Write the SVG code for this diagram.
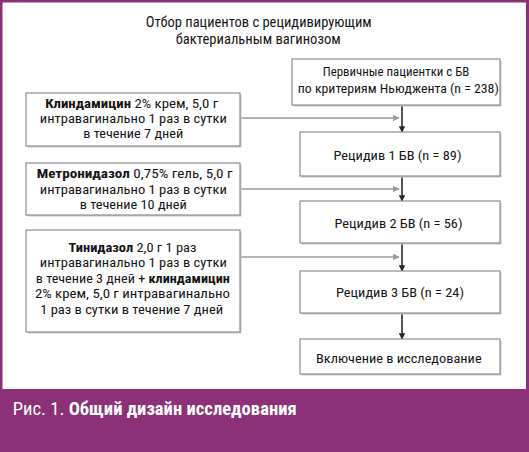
<svg xmlns="http://www.w3.org/2000/svg" width="529" height="452" viewBox="0 0 529 452">
<defs>
<style>
.box{fill:#fff;stroke:#8f8f8f;stroke-width:1.2}
.sh{fill:#c9c9c9}
.t{font-family:"Liberation Sans Narrow","Roboto Condensed","Liberation Sans",sans-serif;font-size:13.3px;fill:#161616;text-anchor:middle}
.b{font-weight:bold}
.ttl{font-size:14px}
.cap{font-family:"Liberation Sans Narrow","Roboto Condensed","Liberation Sans",sans-serif;font-size:19px;fill:#fff}
.v{stroke:#2a2a2a;stroke-width:1.6;fill:none}
.h{stroke:#9a9a9a;stroke-width:1.3;fill:none}
</style>
<marker id="ad" viewBox="0 0 10 10" refX="9" refY="5" markerWidth="4" markerHeight="4" orient="auto" markerUnits="strokeWidth">
<path d="M0,0 L10,5 L0,10 z" fill="#2a2a2a"/>
</marker>
<marker id="ag" viewBox="0 0 10 10" refX="9" refY="5" markerWidth="5" markerHeight="5" orient="auto" markerUnits="strokeWidth">
<path d="M0,0 L10,5 L0,10 z" fill="#9a9a9a"/>
</marker>
</defs>
<rect x="0" y="0" width="529" height="452" fill="#8c3177"/>
<rect x="2.5" y="2.5" width="523.5" height="386.5" fill="#fff"/>

<g id="title">
<text class="t ttl" x="258.7" y="26.5" textLength="226" lengthAdjust="spacingAndGlyphs">Отбор пациентов с рецидивирующим</text>
<text class="t ttl" x="258.2" y="43.5" textLength="165" lengthAdjust="spacingAndGlyphs">бактериальным вагинозом</text>
</g>

<g id="connectors">
<line class="v" x1="402" y1="105" x2="402" y2="132" marker-end="url(#ad)"/>
<line class="v" x1="402" y1="176" x2="402" y2="201" marker-end="url(#ad)"/>
<line class="v" x1="402" y1="243" x2="402" y2="271" marker-end="url(#ad)"/>
<line class="v" x1="402" y1="313" x2="402" y2="339" marker-end="url(#ad)"/>
<line class="h" x1="240" y1="118" x2="399" y2="118" marker-end="url(#ag)"/>
<line class="h" x1="240" y1="189" x2="399" y2="189" marker-end="url(#ag)"/>
<line class="h" x1="240" y1="257" x2="399" y2="257" marker-end="url(#ag)"/>
</g>

<g id="primary">
<rect class="sh" x="293.5" y="60.5" width="208" height="46"/>
<rect class="box" x="292" y="59" width="208" height="46"/>
<text class="t" x="396" y="76" textLength="146.7" lengthAdjust="spacingAndGlyphs">Первичные пациентки с БВ</text>
<text class="t" x="398.3" y="93" textLength="201" lengthAdjust="spacingAndGlyphs">по критериям Ньюджента (n = 238)</text>
</g>

<g id="clinda">
<rect class="sh" x="27.5" y="94.5" width="214" height="53"/>
<rect class="box" x="26" y="93" width="214" height="53"/>
<text class="t" x="131.7" y="108" textLength="173" lengthAdjust="spacingAndGlyphs"><tspan class="b">Клиндамицин</tspan> 2% крем, 5,0 г</text>
<text class="t" x="133.3" y="123" textLength="187" lengthAdjust="spacingAndGlyphs">интравагинально 1 раз в сутки</text>
<text class="t" x="133.3" y="138" textLength="100" lengthAdjust="spacingAndGlyphs">в течение 7 дней</text>
</g>

<g id="rec1">
<rect class="sh" x="301.5" y="133.5" width="200" height="44"/>
<rect class="box" x="300" y="132" width="200" height="44"/>
<text class="t" x="397.5" y="159.5" textLength="128" lengthAdjust="spacingAndGlyphs">Рецидив 1 БВ (n = 89)</text>
</g>

<g id="metro">
<rect class="sh" x="27.5" y="164.5" width="214" height="52"/>
<rect class="box" x="26" y="163" width="214" height="52"/>
<text class="t" x="134.7" y="178.3" textLength="196" lengthAdjust="spacingAndGlyphs"><tspan class="b">Метронидазол</tspan> 0,75% гель, 5,0 г</text>
<text class="t" x="133.3" y="194" textLength="187" lengthAdjust="spacingAndGlyphs">интравагинально 1 раз в сутки</text>
<text class="t" x="133.3" y="209" textLength="107" lengthAdjust="spacingAndGlyphs">в течение 10 дней</text>
</g>

<g id="rec2">
<rect class="sh" x="301.5" y="202.5" width="200" height="42"/>
<rect class="box" x="300" y="201" width="200" height="42"/>
<text class="t" x="398.5" y="227.7" textLength="128" lengthAdjust="spacingAndGlyphs">Рецидив 2 БВ (n = 56)</text>
</g>

<g id="tinid">
<rect class="sh" x="27.5" y="231.5" width="214" height="102"/>
<rect class="box" x="26" y="230" width="214" height="102"/>
<text class="t" x="132.5" y="251.7" textLength="128" lengthAdjust="spacingAndGlyphs"><tspan class="b">Тинидазол</tspan> 2,0 г 1 раз</text>
<text class="t" x="133.3" y="267.3" textLength="187" lengthAdjust="spacingAndGlyphs">интравагинально 1 раз в сутки</text>
<text class="t" x="132.8" y="282.7" textLength="194" lengthAdjust="spacingAndGlyphs">в течение 3 дней + <tspan class="b">клиндамицин</tspan></text>
<text class="t" x="132.5" y="298.3" textLength="195" lengthAdjust="spacingAndGlyphs">2% крем, 5,0 г интравагинально</text>
<text class="t" x="131.7" y="314" textLength="183" lengthAdjust="spacingAndGlyphs">1 раз в сутки в течение 7 дней</text>
</g>

<g id="rec3">
<rect class="sh" x="301.5" y="272.5" width="200" height="42"/>
<rect class="box" x="300" y="271" width="200" height="42"/>
<text class="t" x="400" y="296.7" textLength="128" lengthAdjust="spacingAndGlyphs">Рецидив 3 БВ (n = 24)</text>
</g>

<g id="incl">
<rect class="sh" x="301.5" y="340.5" width="200" height="35"/>
<rect class="box" x="300" y="339" width="200" height="35"/>
<text class="t" x="398.8" y="362.7" textLength="165.7" lengthAdjust="spacingAndGlyphs">Включение в исследование</text>
</g>

<g id="caption">
<text class="cap" x="12.7" y="415" textLength="284" lengthAdjust="spacingAndGlyphs">Рис. 1. <tspan font-weight="bold">Общий дизайн исследования</tspan></text>
</g>
</svg>
